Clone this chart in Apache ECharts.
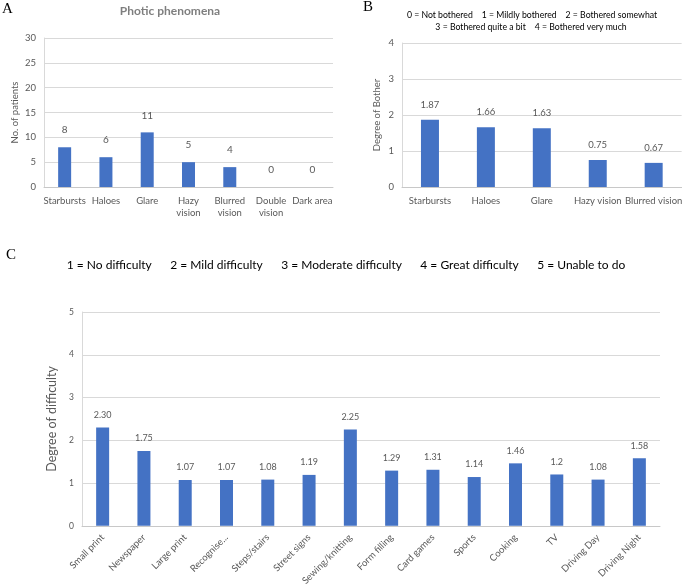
<!DOCTYPE html>
<html><head><meta charset="utf-8">
<script src="https://cdn.jsdelivr.net/npm/echarts@6/dist/echarts.min.js"></script>
<style>html,body{margin:0;padding:0;background:#fff}#c{width:685px;height:588px}</style>
</head><body><div id="c"></div>
<script>
const catsA = ['Starbursts','Haloes','Glare','Hazy\nvision','Blurred\nvision','Double\nvision','Dark area'];
const valsA = [8,6,11,5,4,0,0];
const ticksA = [0,5,10,15,20,25,30];

const catsB = ['Starbursts','Haloes','Glare','Hazy vision','Blurred vision'];
const valsB = [1.87,1.66,1.63,0.75,0.67];
const ticksB = [0,1,2,3,4];

const catsC = ['Small print','Newspaper','Large print','Recognise...','Steps/stairs','Street signs','Sewing/knitting','Form filling','Card games','Sports','Cooking','TV','Driving Day','Driving Night'];
const valsC = [2.30,1.75,1.07,1.07,1.08,1.19,2.25,1.29,1.31,1.14,1.46,1.2,1.08,1.58];
const labelsC = ['2.30','1.75','1.07','1.07','1.08','1.19','2.25','1.29','1.31','1.14','1.46','1.2','1.08','1.58'];
const ticksC = [0,1,2,3,4,5];

const F = 'Lato, "Open Sans", sans-serif';
const GRAY = '#595959';
const BLUE = '#4472C4';
const GRID = '#d9d9d9';

function yAx(idx, ticks, name, gap, nameSize, labelSize){
  return {gridIndex: idx, type:'value', min: ticks[0], max: ticks[ticks.length-1], interval: ticks[1]-ticks[0],
    name: name, nameLocation:'middle', nameGap: gap, nameRotate: 90,
    nameTextStyle:{color:GRAY, fontFamily:F, fontSize:nameSize},
    axisLine:{show:true, lineStyle:{color:GRID}}, axisTick:{show:false},
    axisLabel:{color:GRAY, fontFamily:F, fontSize:labelSize, margin:8},
    splitLine:{lineStyle:{color:GRID}}};
}
function xAx(idx, cats, extra){
  return Object.assign({gridIndex: idx, type:'category', data: cats,
    axisLine:{lineStyle:{color:'#c8c8c8'}}, axisTick:{show:false},
    axisLabel:{color:GRAY, fontFamily:F, fontSize:9.5, interval:0, margin:8, lineHeight:12}}, extra||{});
}

const chart = echarts.init(document.getElementById('c'));
chart.setOption({
  animation:false,
  textStyle:{fontFamily:F},
  grid:[
    {left:44, top:38, width:289, height:149},
    {left:402, top:43, width:283, height:144},
    {left:82, top:312, width:578, height:220}
  ],
  xAxis:[
    xAx(0, catsA),
    xAx(1, catsB),
    xAx(2, catsC, {axisLabel:{color:GRAY, fontFamily:F, fontSize:9.5, interval:0, rotate:45, margin:10}})
  ],
  yAxis:[
    yAx(0, ticksA, 'No. of patients', 24, 9.5, 9.5),
    yAx(1, ticksB, 'Degree of Bother', 20, 9.5, 9.5),
    yAx(2, ticksC, 'Degree of difficulty', 23, 12.5, 8.5)
  ],
  series:[
    {type:'bar', xAxisIndex:0, yAxisIndex:0, data: valsA, barWidth:13, itemStyle:{color:BLUE},
     label:{show:true, position:'top', distance:12, color:GRAY, fontFamily:F, fontSize:10}},
    {type:'bar', xAxisIndex:1, yAxisIndex:1, data: valsB, barWidth:18, itemStyle:{color:BLUE},
     label:{show:true, position:'top', distance:10, color:GRAY, fontFamily:F, fontSize:9.5}},
    {type:'bar', xAxisIndex:2, yAxisIndex:2, data: valsC, barWidth:13, itemStyle:{color:BLUE},
     label:{show:true, position:'top', distance:8, color:GRAY, fontFamily:F, fontSize:9,
       formatter: p => labelsC[p.dataIndex]}}
  ],
  graphic:[
    {type:'text', left:2, top:2, style:{text:'A', font:'15px "Liberation Serif", serif', fill:'#000'}},
    {type:'text', left:363, top:0, style:{text:'B', font:'15px "Liberation Serif", serif', fill:'#000'}},
    {type:'text', left:6, top:248, style:{text:'C', font:'15px "Liberation Serif", serif', fill:'#000'}},
    {type:'text', x:170, y:11, style:{text:'Photic phenomena', font:'bold 12px '+F, fill:'#7f7f7f', align:'center', verticalAlign:'middle'}},
    {type:'text', x:532, y:15, style:{text:'0 = Not bothered    1 = Mildly bothered    2 = Bothered somewhat', font:'8.7px '+F, fill:'#000', align:'center', verticalAlign:'middle'}},
    {type:'text', x:531, y:27, style:{text:'3 = Bothered quite a bit    4 = Bothered very much', font:'8.7px '+F, fill:'#000', align:'center', verticalAlign:'middle'}},
    {type:'text', x:346, y:265, style:{text:'1 = No difficulty      2 = Mild difficulty      3 = Moderate difficulty      4 = Great difficulty      5 = Unable to do', font:'12px '+F, fill:'#000', align:'center', verticalAlign:'middle'}}
  ]
});
</script></body></html>
